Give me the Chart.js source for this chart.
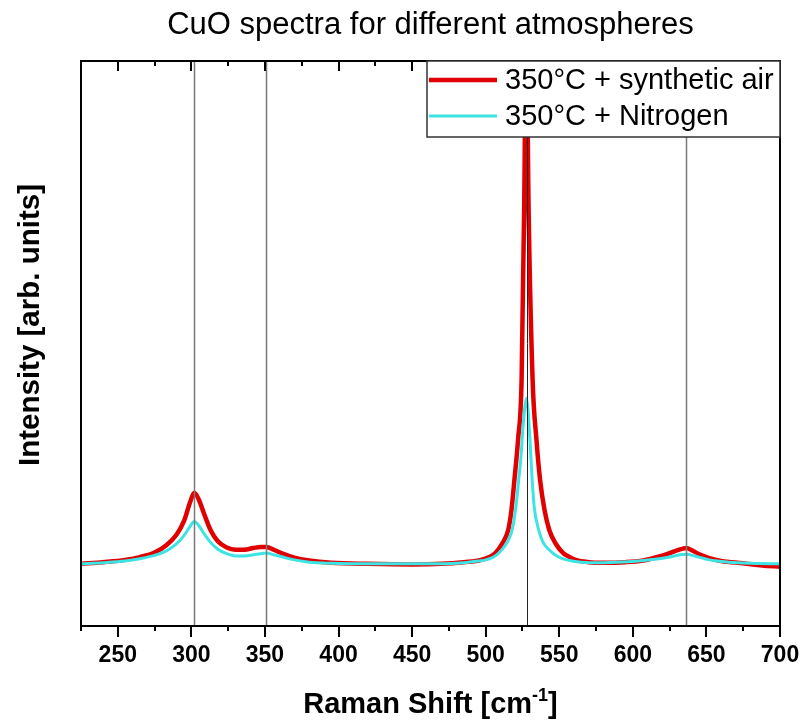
<!DOCTYPE html>
<html>
<head>
<meta charset="utf-8">
<script src="https://cdn.jsdelivr.net/npm/chart.js@4/dist/chart.umd.min.js"></script>
<style>
  html, body { margin: 0; padding: 0; background: #fff; }
  #wrap { width: 803px; height: 720px; }
</style>
</head>
<body>
<div id="wrap"><canvas id="c" width="803" height="720"></canvas></div>
<script>
// Raman spectra of CuO annealed at 350 °C in two atmospheres
const chartTitle = 'CuO spectra for different atmospheres';
const seriesNames = ['350°C + synthetic air', '350°C + Nitrogen'];

// Raman shift (cm-1) and intensity (arb. units) – synthetic air
const shiftAir = [225, 240, 255, 265, 275, 283, 290, 295, 299, 302, 305, 309, 313, 318, 324, 330, 336, 342, 347, 351,
  356, 362, 370, 380, 395, 420, 450, 470, 485, 497, 506.5, 511, 515.3, 517.5, 519.5, 522, 524.4, 526.2, 527.6, 529.1, 531.9,
  534.5, 537, 540, 543.2, 547.5, 552.7, 557, 561, 570, 580, 595, 607, 618, 625, 630, 634, 636.5, 640, 646, 652, 660, 675, 688, 700];
const intensityAir = [11.0, 11.3, 11.7, 12.2, 13.0, 14.3, 16.2, 18.6, 21.8, 23.6, 22.4, 19.6, 17.0, 15.0, 13.9, 13.5, 13.5, 13.8, 14.0, 14.0,
  13.5, 12.8, 12.1, 11.6, 11.2, 11.0, 10.9, 11.0, 11.3, 11.7, 12.9, 14.5, 17.0, 20.5, 25.8, 33.0, 43.5, 75.0, 108.0, 75.0, 43.5,
  33.0, 25.8, 20.5, 17.0, 14.6, 12.9, 12.2, 11.7, 11.3, 11.2, 11.3, 11.6, 12.3, 12.9, 13.4, 13.7, 13.8, 13.4, 12.6, 12.0, 11.5, 11.1, 10.7, 10.5];

// Raman shift (cm-1) and intensity (arb. units) – nitrogen
const shiftN2 = [225, 240, 255, 265, 275, 283, 290, 295, 299, 302, 305, 309, 313, 318, 324, 330, 336, 342, 347, 351,
  356, 362, 370, 380, 395, 420, 450, 470, 485, 495, 500, 506, 511, 515, 518, 520.5, 522.4, 524, 525.2, 526.5, 527.6,
  528.7, 529.7, 531.6, 533, 536, 539, 543, 549, 555, 565, 580, 600, 615, 625, 632, 636.5, 642, 652, 665, 680, 700];
const intensityN2 = [11.0, 11.2, 11.5, 11.9, 12.5, 13.3, 14.6, 16.0, 17.6, 18.5, 17.8, 16.2, 14.8, 13.6, 12.8, 12.4, 12.4, 12.6, 12.8, 12.9,
  12.6, 12.2, 11.7, 11.3, 11.1, 11.0, 11.0, 11.0, 11.2, 11.5, 11.7, 12.3, 13.5, 15.0, 17.0, 21.0, 25.8, 30.0, 34.7, 38.5, 40.3,
  38.5, 34.7, 25.8, 21.0, 17.0, 14.8, 13.5, 12.3, 11.7, 11.3, 11.2, 11.4, 11.8, 12.2, 12.6, 12.7, 12.4, 11.7, 11.3, 11.1, 11.0];

// Axis ticks and reference band positions
const xTicks = [250, 300, 350, 400, 450, 500, 550, 600, 650, 700];
const xMinorStep = 25;
const bandPositions = [302, 351, 528, 636];

const colorAir = '#e00000';
const colorN2 = '#3ee4e4';
const FONT = '"Liberation Sans", Arial, sans-serif';

const toPoints = (xs, ys) => xs.map((v, i) => ({ x: v, y: ys[i] }));

// Frame, ticks on bottom/top edges, band markers and the boxed legend
const framePlugin = {
  id: 'framePlugin',
  afterDatasetsDraw(chart) {
    const { ctx, chartArea: a, scales: { x } } = chart;
    ctx.save();

    // reference band markers
    bandPositions.forEach((v, i) => {
      const px = Math.round(x.getPixelForValue(v)) + 0.5;
      ctx.beginPath();
      ctx.strokeStyle = i === 2 ? '#222' : '#7a7a7a';
      ctx.lineWidth = i === 2 ? 1 : 1.5;
      ctx.moveTo(px, a.top);
      ctx.lineTo(px, a.bottom);
      ctx.stroke();
    });

    // tick marks: outward on bottom, inward on top
    ctx.strokeStyle = '#000';
    ctx.lineWidth = 2;
    for (let v = x.min; v <= x.max + 0.001; v += xMinorStep) {
      const major = xTicks.includes(v);
      const px = Math.round(x.getPixelForValue(v));
      ctx.beginPath();
      ctx.moveTo(px, a.bottom);
      ctx.lineTo(px, a.bottom + (major ? 11 : 5));
      ctx.moveTo(px, a.top);
      ctx.lineTo(px, a.top + (major ? 10 : 5));
      ctx.stroke();
    }

    // plot frame
    ctx.lineWidth = 2;
    ctx.strokeRect(a.left, a.top, a.right - a.left, a.bottom - a.top);

    // legend box in the upper right corner
    const lw = 353, lh = 76;
    const lx = a.right - lw, ly = a.top;
    ctx.fillStyle = '#fff';
    ctx.fillRect(lx, ly, lw, lh);
    ctx.strokeStyle = '#333';
    ctx.lineWidth = 1.5;
    ctx.strokeRect(lx, ly, lw, lh);
    const rows = [
      { name: seriesNames[0], color: colorAir, width: 4.5, y: ly + 19 },
      { name: seriesNames[1], color: colorN2, width: 3, y: ly + 55 }
    ];
    ctx.font = '29px ' + FONT;
    ctx.textBaseline = 'middle';
    ctx.textAlign = 'left';
    rows.forEach(r => {
      ctx.beginPath();
      ctx.strokeStyle = r.color;
      ctx.lineWidth = r.width;
      ctx.moveTo(lx + 2, r.y);
      ctx.lineTo(lx + 70, r.y);
      ctx.stroke();
      ctx.fillStyle = '#000';
      ctx.fillText(r.name, lx + 78, r.y + 1);
    });
    ctx.restore();
  },
  afterDraw(chart) {
    const { ctx, chartArea: a } = chart;
    const cx = (a.left + a.right) / 2;
    ctx.save();
    ctx.fillStyle = '#000';

    // chart title
    ctx.font = '31px ' + FONT;
    ctx.textAlign = 'center';
    ctx.textBaseline = 'middle';
    ctx.fillText(chartTitle, cx, 25);

    // y-axis title
    ctx.save();
    ctx.translate(31, 325);
    ctx.rotate(-Math.PI / 2);
    ctx.font = 'bold 29.5px ' + FONT;
    ctx.fillText('Intensity [arb. units]', 0, 0);
    ctx.restore();

    // x-axis title with superscript exponent
    const main = 'Raman Shift [cm';
    const sup = '-1';
    const tail = ']';
    ctx.textBaseline = 'alphabetic';
    ctx.textAlign = 'left';
    ctx.font = 'bold 29px ' + FONT;
    const wMain = ctx.measureText(main).width;
    const wTail = ctx.measureText(tail).width;
    ctx.font = 'bold 18px ' + FONT;
    const wSup = ctx.measureText(sup).width;
    const total = wMain + wSup + wTail;
    let tx = cx - total / 2;
    const base = 713;
    ctx.font = 'bold 29px ' + FONT;
    ctx.fillText(main, tx, base);
    tx += wMain;
    ctx.font = 'bold 18px ' + FONT;
    ctx.fillText(sup, tx, base - 12);
    tx += wSup;
    ctx.font = 'bold 29px ' + FONT;
    ctx.fillText(tail, tx, base);
    ctx.restore();
  }
};

new Chart(document.getElementById('c'), {
  type: 'line',
  data: {
    datasets: [
      {
        label: seriesNames[0],
        data: toPoints(shiftAir, intensityAir),
        borderColor: colorAir,
        borderWidth: 4.5,
        pointRadius: 0,
        cubicInterpolationMode: 'monotone',
        fill: false,
        order: 2
      },
      {
        label: seriesNames[1],
        data: toPoints(shiftN2, intensityN2),
        borderColor: colorN2,
        borderWidth: 3,
        pointRadius: 0,
        cubicInterpolationMode: 'monotone',
        fill: false,
        order: 1
      }
    ]
  },
  options: {
    responsive: false,
    animation: false,
    devicePixelRatio: 1,
    layout: { padding: { top: 61, right: 23, left: 0, bottom: 0 } },
    plugins: {
      legend: { display: false },
      title: { display: false },
      tooltip: { enabled: false }
    },
    scales: {
      x: {
        type: 'linear',
        min: 225,
        max: 700,
        afterBuildTicks: s => { s.ticks = xTicks.map(v => ({ value: v })); },
        afterFit: s => { s.height = 94; s.paddingLeft = 0; s.paddingRight = 0; },
        grid: { display: false, drawTicks: false },
        border: { display: false },
        ticks: {
          color: '#000',
          padding: 16,
          maxRotation: 0,
          font: { family: FONT, size: 23, weight: 'bold' }
        }
      },
      y: {
        type: 'linear',
        min: 0,
        max: 100,
        afterFit: s => { s.width = 81; s.paddingTop = 0; s.paddingBottom = 0; },
        grid: { display: false, drawTicks: false },
        border: { display: false },
        ticks: { display: false }
      }
    }
  },
  plugins: [framePlugin]
});
</script>
</body>
</html>
